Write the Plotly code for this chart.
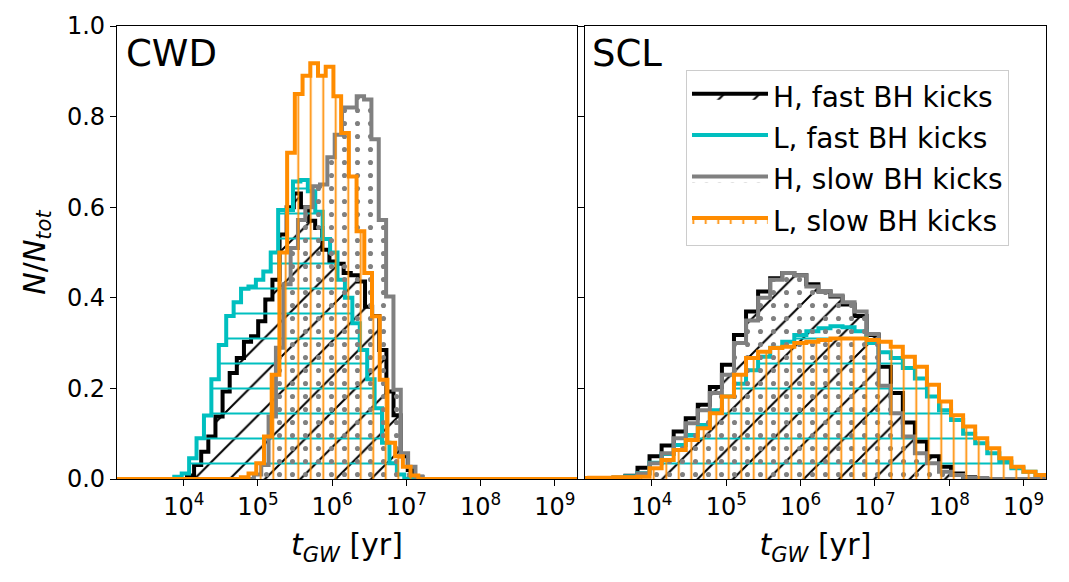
import numpy as np
import plotly.graph_objects as go

# ---------------- data ----------------
# log10 of first bin edge, bin width (dex) and normalized counts N/N_tot
# Left panel (CWD): each series has its own bins
cwd_h_fast_start, cwd_h_fast_width = 4.043, 0.096
cwd_h_fast = [0.008, 0.031, 0.06, 0.094, 0.138, 0.193, 0.234, 0.267, 0.303, 0.315,
              0.348, 0.396, 0.44, 0.54, 0.60, 0.63, 0.60, 0.57, 0.554, 0.506,
              0.48, 0.475, 0.455, 0.45, 0.436, 0.38, 0.36, 0.285, 0.193, 0.141,
              0.05, 0.02, 0.005]

cwd_l_fast_start, cwd_l_fast_width = 3.872, 0.100
cwd_l_fast = [0.005, 0.012, 0.046, 0.09, 0.14, 0.22, 0.296, 0.36, 0.39, 0.42,
              0.425, 0.44, 0.458, 0.50, 0.594, 0.594, 0.657, 0.66, 0.635, 0.59,
              0.53, 0.50, 0.44, 0.40, 0.344, 0.285, 0.22, 0.156, 0.08, 0.035, 0.01]

cwd_h_slow_start, cwd_h_slow_width = 4.945, 0.099
cwd_h_slow = [0.01, 0.031, 0.138, 0.29, 0.43, 0.51, 0.572, 0.60, 0.646, 0.65,
              0.71, 0.76, 0.82, 0.82, 0.845, 0.838, 0.75, 0.572, 0.403, 0.197,
              0.057, 0.027, 0.005]

cwd_l_slow_start, cwd_l_slow_width = 4.769, 0.104
cwd_l_slow = [0.004, 0.012, 0.035, 0.094, 0.23, 0.50, 0.72, 0.85, 0.89, 0.918,
              0.89, 0.91, 0.845, 0.764, 0.668, 0.547, 0.455, 0.359, 0.219, 0.08,
              0.05, 0.027, 0.008]

# Right panel (SCL): common bins
scl_start, scl_width = 2.995, 0.1622
scl_h_fast = [0, 0, 0.001, 0.003, 0.007, 0.025, 0.05, 0.074, 0.105, 0.134,
              0.164, 0.203, 0.252, 0.318, 0.37, 0.414, 0.443, 0.455, 0.45, 0.43,
              0.414, 0.403, 0.385, 0.36, 0.318, 0.248, 0.19, 0.125, 0.083, 0.05,
              0.027, 0.012, 0.004, 0.001, 0, 0, 0, 0, 0]
scl_l_fast = [0, 0, 0.001, 0.003, 0.006, 0.0125, 0.036, 0.055, 0.075, 0.097,
              0.119, 0.152, 0.182, 0.21, 0.24, 0.27, 0.29, 0.303, 0.318, 0.326,
              0.333, 0.337, 0.335, 0.326, 0.30, 0.28, 0.267, 0.245, 0.222, 0.182,
              0.152, 0.13, 0.10, 0.079, 0.057, 0.038, 0.024, 0.016, 0.009]
scl_h_slow = [0, 0, 0.001, 0.002, 0.005, 0.012, 0.035, 0.057, 0.09, 0.123,
              0.152, 0.19, 0.23, 0.30, 0.35, 0.40, 0.44, 0.455, 0.45, 0.425,
              0.415, 0.405, 0.39, 0.37, 0.32, 0.206, 0.145, 0.094, 0.057, 0.035,
              0.016, 0.009, 0.003, 0.001, 0, 0, 0, 0, 0]
scl_l_slow = [0.002, 0.003, 0.003, 0.004, 0.004, 0.005, 0.024, 0.042, 0.064, 0.086,
              0.112, 0.145, 0.182, 0.23, 0.267, 0.281, 0.289, 0.292, 0.30, 0.303,
              0.307, 0.31, 0.31, 0.31, 0.307, 0.303, 0.292, 0.27, 0.248, 0.208,
              0.171, 0.141, 0.116, 0.09, 0.068, 0.046, 0.027, 0.016, 0.009]

labels = ["H, fast BH kicks", "L, fast BH kicks", "H, slow BH kicks", "L, slow BH kicks"]
x_range_log = [3.1, 9.3]
decade_ticks = [4, 5, 6, 7, 8, 9]
y_ticks = [0.0, 0.2, 0.4, 0.6, 0.8, 1.0]

# ---------------- styles ----------------
colors = ["black", "#00BFBF", "#808080", "#FF8C00"]
patterns = [dict(shape="/", size=25, solidity=0.08),
            dict(shape="-", size=25, solidity=0.08),
            dict(shape=".", size=13, solidity=0.12),
            dict(shape="|", size=12.5, solidity=0.14)]


def step_path(start, width, heights):
    n = len(heights)
    edges = 10 ** (start + width * np.arange(n + 1))
    lo, hi = 10 ** (x_range_log[0] - 0.2), 10 ** (x_range_log[1] + 0.2)
    xs = [lo] + list(edges[:-1]) + [edges[-1], hi]
    ys = [0] + list(heights) + [0, 0]
    return xs, ys


fig = go.Figure()

cwd_series = [(cwd_h_fast_start, cwd_h_fast_width, cwd_h_fast),
              (cwd_l_fast_start, cwd_l_fast_width, cwd_l_fast),
              (cwd_h_slow_start, cwd_h_slow_width, cwd_h_slow),
              (cwd_l_slow_start, cwd_l_slow_width, cwd_l_slow)]
scl_series = [scl_h_fast, scl_l_fast, scl_h_slow, scl_l_slow]

for i, (s, w, h) in enumerate(cwd_series):
    xs, ys = step_path(s, w, h)
    fig.add_trace(go.Scatter(
        x=xs, y=ys, mode="lines", xaxis="x", yaxis="y",
        line=dict(shape="hv", color=colors[i], width=4),
        fill="tozeroy", fillcolor="rgba(0,0,0,0)",
        fillpattern=dict(fgcolor=colors[i], fillmode="replace", **patterns[i]),
        name=labels[i], legendgroup=labels[i], showlegend=False, hoverinfo="skip"))

for i, h in enumerate(scl_series):
    xs, ys = step_path(scl_start, scl_width, h)
    fig.add_trace(go.Scatter(
        x=xs, y=ys, mode="lines", xaxis="x2", yaxis="y2",
        line=dict(shape="hv", color=colors[i], width=4),
        fill="tozeroy", fillcolor="rgba(0,0,0,0)",
        fillpattern=dict(fgcolor=colors[i], fillmode="replace", **patterns[i]),
        name=labels[i], legendgroup=labels[i], showlegend=True, hoverinfo="skip"))

W, H = 1069, 582
xd1 = [117 / W, 577 / W]
xd2 = [585 / W, 1046 / W]
yd = [1 - 479 / H, 1 - 26 / H]

tick_font = dict(family="DejaVu Sans", size=24, color="black")
title_font = dict(family="DejaVu Sans", size=30, color="black")
xtickvals = [10 ** d for d in decade_ticks]
xticktext = ["10<sup>%d</sup>" % d for d in decade_ticks]

common_x = dict(type="log", range=x_range_log, tickvals=xtickvals, ticktext=xticktext,
                ticks="outside", ticklen=6, tickwidth=1.2, tickcolor="black",
                showline=True, mirror=True, linecolor="black", linewidth=1.3,
                showgrid=False, zeroline=False, tickfont=tick_font, automargin=False,
                title=dict(text="<i>t</i><sub><i>GW</i></sub> [yr]", font=title_font, standoff=14))
common_y = dict(range=[0, 1], tickvals=y_ticks, ticks="outside", ticklen=6, tickwidth=1.2,
                tickcolor="black", showline=True, mirror=True, linecolor="black",
                linewidth=1.3, showgrid=False, zeroline=False, tickfont=tick_font,
                automargin=False)

fig.update_layout(
    width=W, height=H, margin=dict(l=0, r=0, t=0, b=0),
    paper_bgcolor="white", plot_bgcolor="white",
    font=dict(family="DejaVu Sans", color="black"),
    xaxis=dict(domain=xd1, anchor="y", **common_x),
    xaxis2=dict(domain=xd2, anchor="y2", **common_x),
    yaxis=dict(domain=yd, anchor="x", ticktext=["%.1f" % v for v in y_ticks],
               title=dict(text="<i>N</i>/<i>N</i><sub><i>tot</i></sub>", font=title_font, standoff=12),
               **common_y),
    yaxis2=dict(domain=yd, anchor="x2", showticklabels=False, **common_y),
    legend=dict(x=686 / W, y=1 - 70 / H, xanchor="left", yanchor="top",
                bgcolor="white", bordercolor="#cccccc", borderwidth=1,
                font=dict(family="DejaVu Sans", size=28, color="black"),
                itemwidth=76, tracegroupgap=2, traceorder="grouped"),
    annotations=[
        dict(text="CWD", x=124 / W, y=1 - 30 / H, xref="paper", yref="paper",
             xanchor="left", yanchor="top", showarrow=False,
             font=dict(family="DejaVu Sans", size=37, color="black")),
        dict(text="SCL", x=590 / W, y=1 - 30 / H, xref="paper", yref="paper",
             xanchor="left", yanchor="top", showarrow=False,
             font=dict(family="DejaVu Sans", size=37, color="black")),
    ],
)

fig.write_html("out.html")
